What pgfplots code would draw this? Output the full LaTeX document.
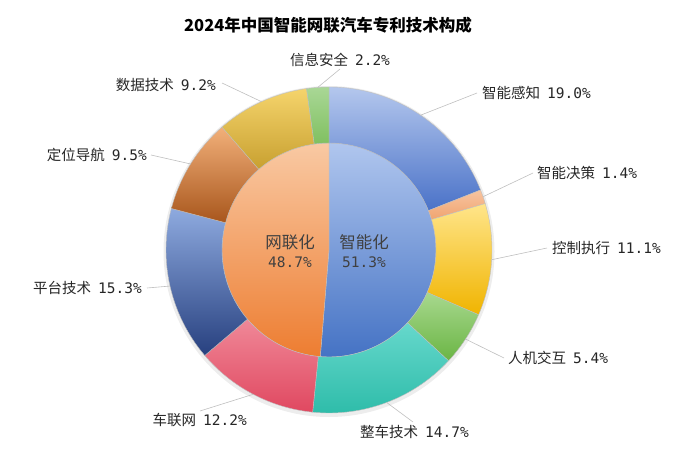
\documentclass[border=0pt]{standalone}
\usepackage{fontspec}
\usepackage{pgfplots}
\usepackage{pgfplotstable}
\pgfplotsset{compat=1.18}
\newfontfamily\cjk{Noto Sans CJK SC}
\newfontfamily\mono{DejaVu Sans Mono}

% outer ring colours (top / bottom of the gradient)
\definecolor{o0t}{HTML}{B4C7ED}\definecolor{o0b}{HTML}{4A72C8}
\definecolor{o1t}{HTML}{F8C4A0}\definecolor{o1b}{HTML}{F0A470}
\definecolor{o2t}{HTML}{FFE58A}\definecolor{o2b}{HTML}{F0B400}
\definecolor{o3t}{HTML}{A8D88E}\definecolor{o3b}{HTML}{6AB544}
\definecolor{o4t}{HTML}{66D8CC}\definecolor{o4b}{HTML}{2CBBA8}
\definecolor{o5t}{HTML}{F08898}\definecolor{o5b}{HTML}{E04860}
\definecolor{o6t}{HTML}{8EAADF}\definecolor{o6b}{HTML}{27407F}
\definecolor{o7t}{HTML}{F2B07A}\definecolor{o7b}{HTML}{A8561C}
\definecolor{o8t}{HTML}{F5D46C}\definecolor{o8b}{HTML}{C8A030}
\definecolor{o9t}{HTML}{A9D796}\definecolor{o9b}{HTML}{80C060}
% inner pie
\definecolor{i0t}{HTML}{B0C6EE}\definecolor{i0b}{HTML}{4472C4}
\definecolor{i1t}{HTML}{F9C9A3}\definecolor{i1b}{HTML}{ED7D31}
\definecolor{leadc}{HTML}{BFBFBF}
\definecolor{txt}{HTML}{262626}
\definecolor{intxt}{HTML}{404040}

\tikzset{
  lbl/.style={font=\cjk\fontsize{14.5}{17}\selectfont, text=txt, inner sep=0pt},
  leader/.style={draw=leadc, line width=0.6pt},
}

% label, share in %, text anchor point, anchor, leader end
\pgfplotstableread{
label value lx ly anc ex ey
智能感知 19.0 153 157 west 148 157
智能决策 1.4 208 77 west 204 77
控制执行 11.1 223 2 west 218 2
人机交互 5.4 179 -108 west 175 -108
整车技术 14.7 31 -182 west 84 -172
车联网 12.2 -82 -170 east -129 -161
平台技术 15.3 -187 -38 east -182 -38
定位导航 9.5 -182 95 east -178 95
数据技术 9.2 -113 165 east -107 167
信息安全 2.2 11 190 center 11 181
}\outer

\pgfplotstableread{
label value lx
智能化 51.3 35
网联化 48.7 -39
}\inner

\begin{document}
\begin{tikzpicture}
\begin{axis}[x=1pt, y=1pt, xmin=-329, xmax=363, ymin=-203, ymax=250,
  hide axis, clip=false]
  \path (rel axis cs:0,0) rectangle (rel axis cs:1,1);
  \fill[black!7] (axis cs:0,-1.5) circle[radius=165.5pt];

  % inner pie
  \def\cum{0}
  \pgfplotsforeachungrouped \k in {0,1}{%
    \pgfplotstablegetelem{\k}{label}\of\inner \let\lab\pgfplotsretval
    \pgfplotstablegetelem{\k}{value}\of\inner \let\val\pgfplotsretval
    \pgfplotstablegetelem{\k}{lx}\of\inner \let\labx\pgfplotsretval
    \pgfmathsetmacro\angA{90-3.6*\cum}
    \pgfmathsetmacro\cum{\cum+\val}
    \pgfmathsetmacro\angB{90-3.6*\cum}
    \pgfmathsetmacro\xo{107*cos(\angA)}\pgfmathsetmacro\yo{107*sin(\angA)}
    \edef\tmp{%
      \noexpand\path[draw=black!25, line width=0.4pt, top color=i\k t, bottom color=i\k b]
        (axis cs:0,0) -- (axis cs:\xo,\yo)
        arc[start angle=\angA, end angle=\angB, radius=107pt] -- cycle;
      \noexpand\node[lbl, text=intxt, font=\noexpand\cjk\noexpand\fontsize{16.5}{19}\noexpand\selectfont]
        at (axis cs:\labx,8) {\lab};
      \noexpand\node[lbl, text=intxt, font=\noexpand\mono\noexpand\fontsize{14.5}{17}\noexpand\selectfont]
        at (axis cs:\labx,-12) {\val\noexpand\%};
    }\tmp
  }

  % outer ring
  \pgfplotstablegetrowsof{\outer}
  \pgfmathtruncatemacro\nlast{\pgfplotsretval-1}
  \def\cum{0}
  \pgfplotsforeachungrouped \k in {0,...,\nlast}{%
    \pgfplotstablegetelem{\k}{label}\of\outer \let\lab\pgfplotsretval
    \pgfplotstablegetelem{\k}{value}\of\outer \let\val\pgfplotsretval
    \pgfplotstablegetelem{\k}{lx}\of\outer \let\labx\pgfplotsretval
    \pgfplotstablegetelem{\k}{ly}\of\outer \let\laby\pgfplotsretval
    \pgfplotstablegetelem{\k}{anc}\of\outer \let\anc\pgfplotsretval
    \pgfplotstablegetelem{\k}{ex}\of\outer \let\endx\pgfplotsretval
    \pgfplotstablegetelem{\k}{ey}\of\outer \let\endy\pgfplotsretval
    \pgfmathsetmacro\angA{90-3.6*\cum}
    \pgfmathsetmacro\cum{\cum+\val}
    \pgfmathsetmacro\angB{90-3.6*\cum}
    \pgfmathsetmacro\angM{(\angA+\angB)/2}
    \pgfmathsetmacro\xo{163*cos(\angA)}\pgfmathsetmacro\yo{163*sin(\angA)}
    \pgfmathsetmacro\xin{107*cos(\angB)}\pgfmathsetmacro\yin{107*sin(\angB)}
    \pgfmathsetmacro\xm{163*cos(\angM)}\pgfmathsetmacro\ym{163*sin(\angM)}
    \edef\tmp{%
      \noexpand\path[draw=black!25, line width=0.4pt, top color=o\k t, bottom color=o\k b]
        (axis cs:\xo,\yo) arc[start angle=\angA, end angle=\angB, radius=163pt]
        -- (axis cs:\xin,\yin) arc[start angle=\angB, end angle=\angA, radius=107pt] -- cycle;
      \noexpand\draw[leader] (axis cs:\xm,\ym) -- (axis cs:\endx,\endy);
      \noexpand\node[lbl, anchor=\anc] at (axis cs:\labx,\laby)
        {\lab\noexpand\hspace{7pt}\noexpand\mono\val\noexpand\%};
    }\tmp
  }

  \node[font=\cjk\bfseries\fontsize{16.5}{19}\selectfont, text=black]
    at (axis cs:-1,225) {2024年中国智能网联汽车专利技术构成};
\end{axis}
\end{tikzpicture}
\end{document}
